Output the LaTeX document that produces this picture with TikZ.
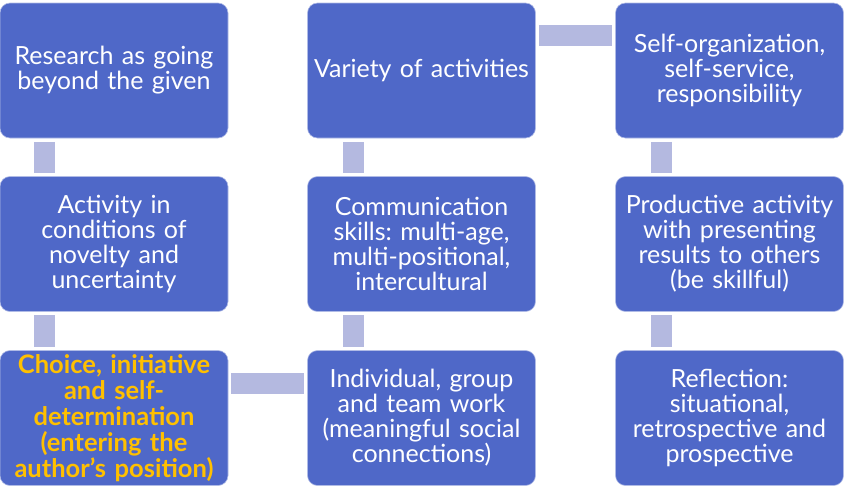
\documentclass[tikz,border=0pt]{standalone}
\usepackage{fontspec}
\setmainfont{Lato}
\frenchspacing
\definecolor{boxblue}{RGB}{79,104,200}
\definecolor{connlav}{RGB}{180,185,224}
\definecolor{hiyellow}{RGB}{255,192,0}
\begin{document}
\begin{tikzpicture}[x=1pt,y=-1pt,
  stepbox/.style={rectangle, rounded corners=10pt, fill=boxblue, draw=white!55!boxblue, line width=0.6pt,
    minimum width=228pt, minimum height=135pt, text width=224pt, align=center, inner sep=0pt,
    text=white, font=\fontsize{25}{25}\selectfont},
  hibox/.style={stepbox, text=hiyellow, font=\fontsize{25.5}{26}\selectfont\bfseries},
  vconn/.style={draw=connlav, line width=21pt, shorten <=3.5pt, shorten >=3.5pt},
  hconn/.style={draw=connlav, line width=21pt, shorten <=3pt, shorten >=3pt}
]
\useasboundingbox (0,0) rectangle (846,488);
% column 1
\node[stepbox] (a1) at (114,70.5) {Research as going\\beyond the given};
\node[stepbox] (a2) at (114,244) {Activity in\\conditions of\\novelty and\\uncertainty};
\node[hibox]   (a3) at (114,418) {Choice, initiative\\and self-\\determination\\(entering the\\author’s position)};
% column 2
\node[stepbox] (b1) at (421.5,70.5) {Variety of activities};
\node[stepbox] (b2) at (421.5,244) {Communication\\skills: multi-age,\\multi-positional,\\intercultural};
\node[stepbox] (b3) at (421.5,418) {Individual, group\\and team work\\(meaningful social\\connections)};
% column 3
\node[stepbox] (c1) at (729.5,70.5) {Self-organization,\\self-service,\\responsibility};
\node[stepbox] (c2) at (729.5,244) {Productive activity\\with presenting\\results to others\\(be skillful)};
\node[stepbox] (c3) at (729.5,418) {Reflection:\\situational,\\retrospective and\\prospective};
% connectors
\draw[vconn] ([xshift=-69.5pt]a1.south) -- ([xshift=-69.5pt]a2.north);
\draw[vconn] ([xshift=-69.5pt]a2.south) -- ([xshift=-69.5pt]a3.north);
\draw[vconn] ([xshift=-68pt]b2.north) -- ([xshift=-68pt]b1.south);
\draw[vconn] ([xshift=-68pt]b3.north) -- ([xshift=-68pt]b2.south);
\draw[vconn] ([xshift=-68pt]c1.south) -- ([xshift=-68pt]c2.north);
\draw[vconn] ([xshift=-68pt]c2.south) -- ([xshift=-68pt]c3.north);
\draw[hconn] ([yshift=35pt]a3.east) -- ([yshift=35pt]b3.west);
\draw[hconn] ([yshift=35pt]b1.east) -- ([yshift=35pt]c1.west);
\end{tikzpicture}
\end{document}
